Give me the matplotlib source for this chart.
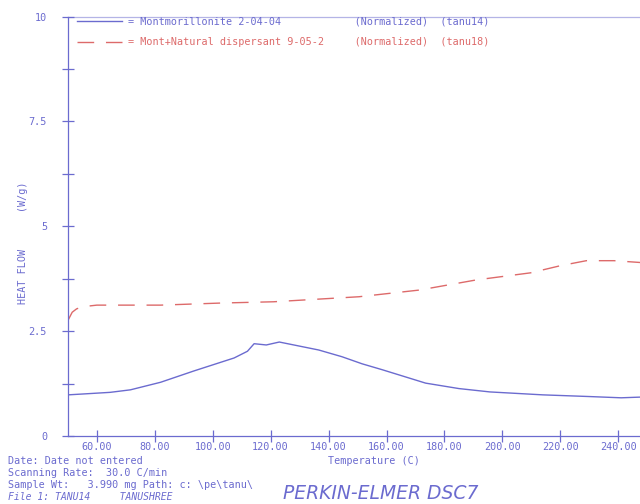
import matplotlib
matplotlib.use("Agg")
import matplotlib.pyplot as plt

# Montmorillonite 2-04-04 (tanu14)
temp_mont = [50, 55, 64.6, 71.6, 82, 93.5, 107.4, 112, 114.3, 118.5, 123, 136.6, 144.6,
             151.6, 158.5, 173.5, 185, 195.7, 214, 230, 241, 249]
heat_mont = [0.98, 1.0, 1.04, 1.1, 1.28, 1.55, 1.86, 2.02, 2.2, 2.17, 2.24, 2.05, 1.89,
             1.72, 1.58, 1.26, 1.13, 1.05, 0.98, 0.94, 0.91, 0.93]

# Mont+Natural dispersant 9-05-2 (tanu18)
temp_disp = [50, 51.5, 53, 54.9, 60, 82, 103, 121, 150.5, 171.4, 190.9, 209.7, 220,
             229, 238.5, 249]
heat_disp = [2.75, 2.95, 3.03, 3.08, 3.12, 3.12, 3.17, 3.2, 3.32, 3.48, 3.72, 3.89, 4.06,
             4.18, 4.18, 4.13]

x_ticks = [60, 80, 100, 120, 140, 160, 180, 200, 220, 240]
y_ticks = [0, 2.5, 5, 7.5, 10]
y_tick_labels = ["0", "2.5", "5", "7.5", "10"]

ink = "#6b6bcf"
red = "#dd6a6a"
mono = "DejaVu Sans Mono"

fig = plt.figure(figsize=(6.4, 5.04), dpi=100)
ax = fig.add_axes([0.106, 0.135, 0.894, 0.832])

ax.plot(temp_mont, heat_mont, color=ink, lw=1.0,
        label="= Montmorillonite 2-04-04            (Normalized)  (tanu14)")
ax.plot(temp_disp, heat_disp, color=red, lw=1.0, dashes=(12, 8.5),
        label="= Mont+Natural dispersant 9-05-2     (Normalized)  (tanu18)")

ax.set_xlim(50, 247.5)
ax.set_ylim(0, 10)

ax.set_xticks(x_ticks)
ax.set_xticklabels([f"{t:.2f}" for t in x_ticks])
ax.set_yticks(y_ticks)
ax.set_yticklabels(y_tick_labels)
ax.set_yticks([1.25, 3.75, 6.25, 8.75], minor=True)

ax.tick_params(axis="both", which="both", direction="inout", colors=ink,
               labelsize=7.3, width=0.9)
ax.tick_params(axis="x", length=8, pad=0)
ax.tick_params(axis="y", length=8, pad=11)
ax.tick_params(axis="y", which="minor", length=8)
for lab in ax.get_xticklabels() + ax.get_yticklabels():
    lab.set_family(mono)

for side in ["left", "bottom", "top"]:
    ax.spines[side].set_color(ink)
    ax.spines[side].set_linewidth(0.9)
ax.spines["top"].set_alpha(0.5)
ax.spines["right"].set_visible(False)

ax.set_xlabel("Temperature (C)", family=mono, fontsize=7.3, color=ink)
ax.xaxis.set_label_coords(0.535, -0.048)
ax.set_ylabel("HEAT FLOW      (W/g)", family=mono, fontsize=7.3, color=ink)
ax.yaxis.set_label_coords(-0.07, 0.46)

leg = ax.legend(loc="upper left", bbox_to_anchor=(0.0, 1.022), frameon=False,
                handlelength=4.4, handletextpad=0.6, labelspacing=1.05,
                prop={"family": mono, "size": 7.3}, labelcolor="linecolor")

info = ["Date: Date not entered",
        "Scanning Rate:  30.0 C/min",
        "Sample Wt:   3.990 mg Path: c: \\pe\\tanu\\"]
for i, line in enumerate(info):
    fig.text(0.012, 0.085 - i * 0.024, line, family=mono, fontsize=7.3,
             color=ink, va="center")
fig.text(0.012, 0.013, "File 1: TANU14     TANUSHREE", family=mono, fontsize=7,
         style="italic", color=ink, va="center")
fig.text(0.442, 0.02, "PERKIN-ELMER DSC7", family="DejaVu Sans", fontsize=13.5,
         style="italic", color=ink, va="center", fontweight="light")

fig.savefig("out.png", dpi=100)
